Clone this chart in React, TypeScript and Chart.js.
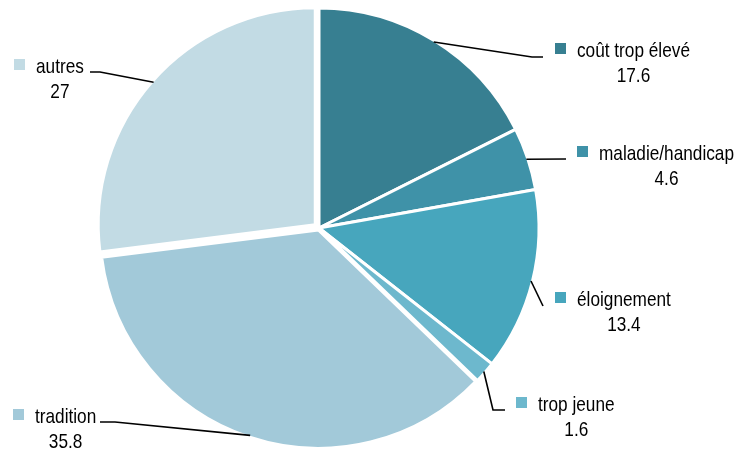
import React, { useEffect, useRef } from 'react';
import { Chart, registerables } from 'chart.js';

Chart.register(...registerables);

const categories = ['coût trop élevé', 'maladie/handicap', 'éloignement', 'trop jeune', 'tradition', 'autres'];
const values = [17.6, 4.6, 13.4, 1.6, 35.8, 27];
const valueLabels = ['17.6', '4.6', '13.4', '1.6', '35.8', '27'];
const colors = ['#377f91', '#3f92a8', '#47a6bd', '#6db8cd', '#a2c9d9', '#c2dbe4'];
const explode = [0, 0, 0, 0, 8, 20];
const radiusShrink = [0, 0, 0, 0, 2, 3];

// label layout: square top-left corner and leader-line path after the slice edge
const labelLayout = [
  { sx: 555, sy: 43, path: [[532, 57], [543, 57]] },
  { sx: 577, sy: 146, path: [[566, 159]] },
  { sx: 555, sy: 292, path: [[543, 306]] },
  { sx: 516, sy: 397, path: [[493, 410], [505, 410]] },
  { sx: 13, sy: 409, path: [[115, 422], [100, 422]] },
  { sx: 14, sy: 59, path: [[100, 72], [90, 72]] },
];

const FONT_SIZE = 21;

const labelPlugin = {
  id: 'pieLabels',
  afterDatasetsUpdate(chart: any) {
    const meta = chart.getDatasetMeta(0);
    meta.data.forEach((arc: any, i: number) => {
      if (radiusShrink[i]) arc.outerRadius = arc.outerRadius - radiusShrink[i];
    });
  },
  afterDraw(chart: any) {
    const ctx = chart.ctx as CanvasRenderingContext2D;
    const meta = chart.getDatasetMeta(0);
    ctx.save();
    ctx.font = `${FONT_SIZE}px 'Liberation Sans Narrow', 'Liberation Sans'`;
    const wN = ctx.measureText('maladie/handicap').width;
    ctx.font = `${FONT_SIZE}px 'Liberation Sans'`;
    const wR = ctx.measureText('maladie/handicap').width;
    let scaleX = 1;
    if (wN / wR > 0.95) {
      scaleX = 0.82;
    } else {
      ctx.font = `${FONT_SIZE}px 'Liberation Sans Narrow', 'Liberation Sans'`;
    }
    meta.data.forEach((arc: any, i: number) => {
      const p = arc.getProps(['x', 'y', 'startAngle', 'endAngle', 'outerRadius'], true);
      const off = (arc.options.offset || 0) / 4;
      const mid = (p.startAngle + p.endAngle) / 2;
      const r = p.outerRadius - 1.5 + off;
      const x0 = p.x + Math.cos(mid) * r;
      const y0 = p.y + Math.sin(mid) * r;
      const lay = labelLayout[i];
      ctx.strokeStyle = '#000';
      ctx.lineWidth = 1.6;
      ctx.beginPath();
      ctx.moveTo(x0, y0);
      lay.path.forEach((pt) => ctx.lineTo(pt[0], pt[1]));
      ctx.stroke();

      ctx.fillStyle = colors[i];
      ctx.fillRect(lay.sx, lay.sy, 11, 11);

      ctx.fillStyle = '#000';
      ctx.textAlign = 'left';
      ctx.textBaseline = 'alphabetic';
      const tx = lay.sx + 22;
      const ty = lay.sy + 14;
      const tw = ctx.measureText(categories[i]).width * scaleX;
      ctx.save();
      ctx.translate(tx, ty);
      ctx.scale(scaleX, 1);
      ctx.fillText(categories[i], 0, 0);
      ctx.restore();
      const vw = ctx.measureText(valueLabels[i]).width * scaleX;
      ctx.save();
      ctx.translate(tx + tw / 2 - vw / 2, ty + 25);
      ctx.scale(scaleX, 1);
      ctx.fillText(valueLabels[i], 0, 0);
      ctx.restore();
    });
    ctx.restore();
  },
};

export default function App() {
  const ref = useRef<HTMLCanvasElement | null>(null);
  useEffect(() => {
    if (!ref.current) return;
    const chart = new Chart(ref.current, {
      type: 'pie',
      data: {
        labels: categories,
        datasets: [
          {
            data: values,
            backgroundColor: colors,
            borderColor: '#ffffff',
            borderWidth: 3,
            offset: explode,
            radius: 220,
          } as any,
        ],
      },
      options: {
        animation: false,
        responsive: false,
        layout: { padding: { left: 0, right: 101, top: 5, bottom: 0 } },
        plugins: {
          legend: { display: false },
          tooltip: { enabled: false },
        },
      },
      plugins: [labelPlugin],
    });
    return () => chart.destroy();
  }, []);
  return (
    <div style={{ position: 'fixed', left: 0, top: 0, width: 739, height: 451, background: '#fff' }}>
      <canvas ref={ref} width={739} height={451} />
    </div>
  );
}
